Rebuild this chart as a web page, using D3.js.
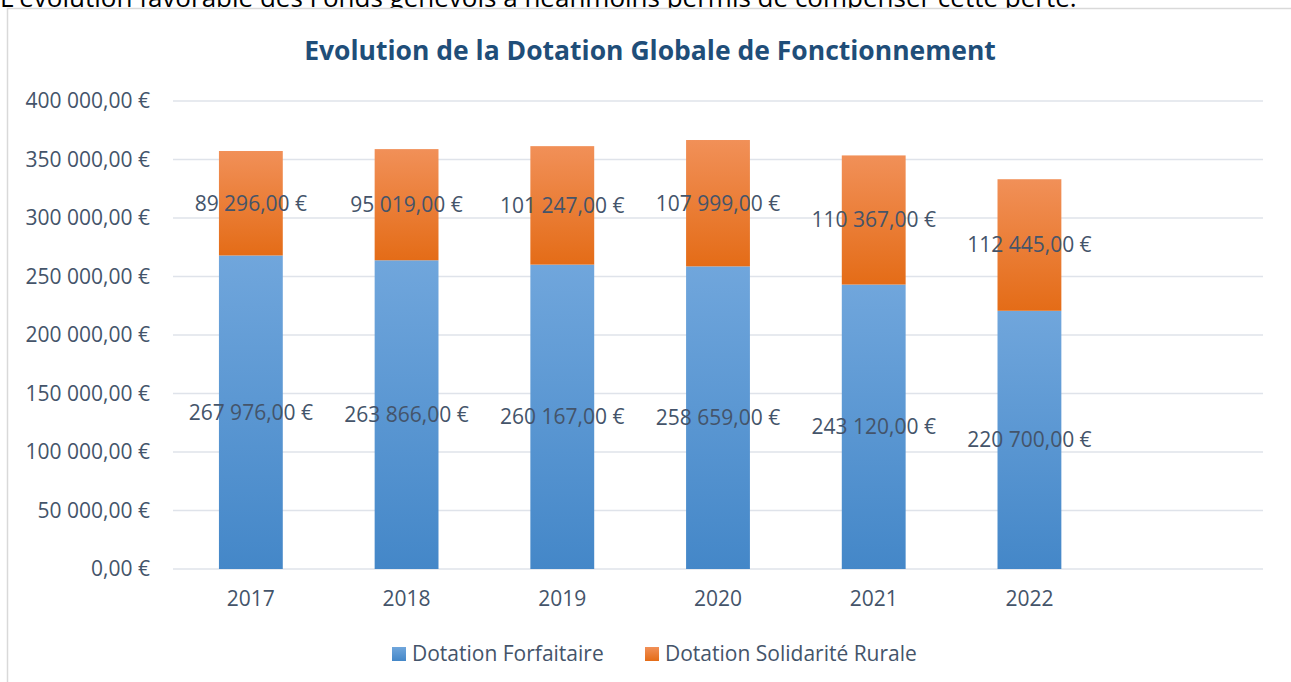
<!DOCTYPE html>
<html>
<head>
<meta charset="utf-8">
<script src="https://cdn.jsdelivr.net/npm/d3@7"></script>
<style>
  body { margin: 0; background: #fff; overflow: hidden; }
  text { font-family: "Open Sans", "Noto Sans", sans-serif; }
</style>
</head>
<body>
<script>
var width = 1291,
    height = 682;

var years = ["2017", "2018", "2019", "2020", "2021", "2022"];
var forfaitaire = [267976, 263866, 260167, 258659, 243120, 220700];
var solidarite = [89296, 95019, 101247, 107999, 110367, 112445];
var seriesNames = ["Dotation Forfaitaire", "Dotation Solidarité Rurale"];
var yTicks = [0, 50000, 100000, 150000, 200000, 250000, 300000, 350000, 400000];

var margin = {left: 173, right: 1263, top: 101, bottom: 569};

var fmt = function (v) {
    var s = d3.format(",.2f")(v);
    return s.replace(/,/g, " ").replace(".", ",") + " €";
};

var svg = d3.select("body").append("svg")
    .attr("width", width)
    .attr("height", height);

var defs = svg.append("defs");
var gBlue = defs.append("linearGradient").attr("id", "gblue")
    .attr("x1", 0).attr("y1", 0).attr("x2", 0).attr("y2", 1);
gBlue.append("stop").attr("offset", "0%").attr("stop-color", "#70a6dc");
gBlue.append("stop").attr("offset", "100%").attr("stop-color", "#4487c8");
var gOrange = defs.append("linearGradient").attr("id", "gorange")
    .attr("x1", 0).attr("y1", 0).attr("x2", 0).attr("y2", 1);
gOrange.append("stop").attr("offset", "0%").attr("stop-color", "#f19058");
gOrange.append("stop").attr("offset", "100%").attr("stop-color", "#e46c17");

// text above the chart (cut off in the original screenshot)
svg.append("text")
    .attr("x", 0)
    .attr("y", 7)
    .style("font-size", "26px")
    .style("fill", "#000")
    .text("L'évolution favorable des Fonds genevois a néanmoins permis de compenser cette perte.");

// chart frame
svg.append("rect")
    .attr("x", 7.5)
    .attr("y", 8.5)
    .attr("width", 1300)
    .attr("height", 700)
    .attr("fill", "#fff")
    .attr("stroke", "#d9d9d9")
    .attr("stroke-width", 1.5);

svg.append("text")
    .attr("x", 650)
    .attr("y", 60)
    .attr("text-anchor", "middle")
    .style("font-size", "26.5px")
    .style("font-weight", "bold")
    .style("fill", "#1f4e79")
    .text("Evolution de la Dotation Globale de Fonctionnement");

var x = d3.scaleBand()
    .domain(years.concat([""]))
    .range([margin.left, margin.right])
    .paddingInner(0.59)
    .paddingOuter(0.295);

var y = d3.scaleLinear()
    .domain([0, 400000])
    .range([margin.bottom, margin.top]);

// grid
svg.append("g").selectAll("line")
    .data(yTicks)
    .enter().append("line")
    .attr("x1", margin.left)
    .attr("x2", margin.right)
    .attr("y1", function (d) { return y(d); })
    .attr("y2", function (d) { return y(d); })
    .attr("stroke", "#dfe3ea")
    .attr("stroke-width", 1.5);

var yAxis = svg.append("g")
    .attr("transform", "translate(150,0)")
    .call(d3.axisLeft(y).tickValues(yTicks).tickFormat(fmt).tickSize(0));
yAxis.select(".domain").remove();
yAxis.selectAll("text")
    .attr("x", 0)
    .style("font-size", "21px")
    .style("fill", "#44546a")
    .style("font-family", "'Open Sans', sans-serif");

var xAxis = svg.append("g")
    .attr("transform", "translate(0," + (margin.bottom + 19) + ")")
    .call(d3.axisBottom(x).tickSize(0));
xAxis.select(".domain").remove();
xAxis.selectAll("text")
    .style("font-size", "21px")
    .style("fill", "#44546a")
    .style("font-family", "'Open Sans', sans-serif");

var rows = years.map(function (yr, i) {
    return {year: yr, a: forfaitaire[i], b: solidarite[i]};
});

var bars = svg.append("g");
bars.selectAll(".fb")
    .data(rows)
    .enter().append("rect")
    .attr("x", function (d) { return x(d.year); })
    .attr("width", x.bandwidth())
    .attr("y", function (d) { return y(d.a); })
    .attr("height", function (d) { return y(0) - y(d.a); })
    .attr("fill", "url(#gblue)");
bars.selectAll(".sb")
    .data(rows)
    .enter().append("rect")
    .attr("x", function (d) { return x(d.year); })
    .attr("width", x.bandwidth())
    .attr("y", function (d) { return y(d.a + d.b); })
    .attr("height", function (d) { return y(d.a) - y(d.a + d.b); })
    .attr("fill", "url(#gorange)");

var labels = svg.append("g")
    .style("font-size", "21px")
    .style("fill", "#44546a")
    .attr("text-anchor", "middle");
labels.selectAll(".la")
    .data(rows)
    .enter().append("text")
    .attr("x", function (d) { return x(d.year) + x.bandwidth() / 2; })
    .attr("y", function (d) { return y(d.a / 2); })
    .attr("dy", "0.35em")
    .text(function (d) { return fmt(d.a); });
labels.selectAll(".lb")
    .data(rows)
    .enter().append("text")
    .attr("x", function (d) { return x(d.year) + x.bandwidth() / 2; })
    .attr("y", function (d) { return y(d.a + d.b / 2); })
    .attr("dy", "0.35em")
    .text(function (d) { return fmt(d.b); });

// legend
var legend = svg.append("g").attr("transform", "translate(392,654)");
var lx = [0, 253];
seriesNames.forEach(function (name, i) {
    legend.append("rect")
        .attr("x", lx[i])
        .attr("y", -7)
        .attr("width", 14)
        .attr("height", 14)
        .attr("fill", i === 0 ? "url(#gblue)" : "url(#gorange)");
    legend.append("text")
        .attr("x", lx[i] + 20)
        .attr("y", 0)
        .attr("dy", "0.35em")
        .style("font-size", "21px")
        .style("fill", "#44546a")
        .text(name);
});
</script>
</body>
</html>
